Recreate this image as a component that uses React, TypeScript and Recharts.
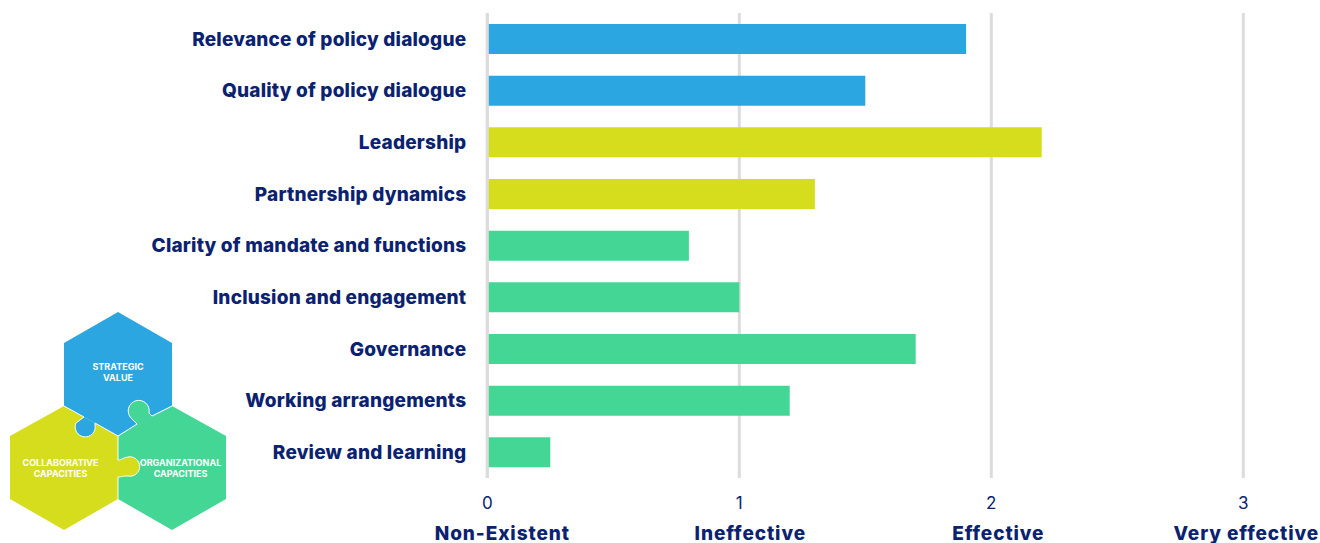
import React from "react";
import { BarChart, Bar, Cell, XAxis, YAxis, CartesianGrid, ReferenceLine } from "recharts";

const categories = [
  "Relevance of policy dialogue",
  "Quality of policy dialogue",
  "Leadership",
  "Partnership dynamics",
  "Clarity of mandate and functions",
  "Inclusion and engagement",
  "Governance",
  "Working arrangements",
  "Review and learning",
];
const scores = [1.9, 1.5, 2.2, 1.3, 0.8, 1.0, 1.7, 1.2, 0.25];
const groups = ["blue", "blue", "yellow", "yellow", "green", "green", "green", "green", "green"];
const xTicks = [0, 1, 2, 3];
const xTickNames = ["Non-Existent", "Ineffective", "Effective", "Very effective"];

const colors: Record<string, string> = { blue: "#2ba6e0", yellow: "#d6dd1c", green: "#44d695" };
const navy = "#0a2270";
const font = "Inter, sans-serif";

const data = categories.map((name, i) => ({ name, score: scores[i], group: groups[i] }));

// the scale names sit a bit right of their tick in the original
const nameOffset = [15, 11, 7, 3];

function XTick({ x, y, payload, index }: any) {
  return (
    <g>
      <text x={x} y={y + 23} textAnchor="middle" fontFamily={font} fontSize={17} fill={navy}>
        {payload.value}
      </text>
      <text
        x={x + nameOffset[index]}
        y={y + 54}
        textAnchor="middle"
        fontFamily={font}
        fontSize={19}
        fontWeight={800}
        letterSpacing={0.9}
        fill={navy}
      >
        {xTickNames[index]}
      </text>
    </g>
  );
}

function PuzzleLogo() {
  const label = { fontFamily: font, fontSize: 9, fontWeight: 700, fill: "#fff", textAnchor: "middle" as const };
  return (
    <svg width={240} height={243} viewBox="0 300 240 243" style={{ position: "absolute", left: 0, top: 300 }}>
      <path d="M64 406L118 436V499L64 530L10 499V436Z" fill={colors.yellow} />
      <path d="M172 406L226 436V499L172 530L118 499V436Z" fill={colors.green} />
      <path d="M118 312L172 343V406L118 436L64 406V343Z" fill={colors.blue} />
      {/* knobs */}
      <path d="M84 417L76 423A10 10 0 1 0 95 425L95 423L118 436L64 406Z" fill={colors.blue} />
      <path d="M118 460C122 460 122 458 128 457A9.7 9.7 0 1 1 128 476C122 476 122 477 118 477Z" fill={colors.yellow} />
      <path d="M137 424L131 418A10.5 10.5 0 1 1 149 413L152 416L172 406L118 436Z" fill={colors.green} />
      <g fill="none" stroke="#fff" strokeWidth={1}>
        <path d="M64 406L84 417L76 423A10 10 0 1 0 95 425L95 423L118 436" />
        <path d="M118 436V460C122 460 122 458 128 457A9.7 9.7 0 1 1 128 476C122 476 122 477 118 477V499" />
        <path d="M118 436L137 424L131 418A10.5 10.5 0 1 1 149 413L152 416L172 406" />
      </g>
      <text {...label} x={118} y={370}>STRATEGIC</text>
      <text {...label} x={118} y={381}>VALUE</text>
      <text {...label} x={60.5} y={466}>COLLABORATIVE</text>
      <text {...label} x={60.5} y={477}>CAPACITIES</text>
      <text {...label} x={180.5} y={466}>ORGANIZATIONAL</text>
      <text {...label} x={180.5} y={477}>CAPACITIES</text>
    </svg>
  );
}

export default function App() {
  return (
    <div style={{ position: "absolute", left: 0, top: 0, width: 1320, height: 543, background: "#fff", overflow: "hidden" }}>
      <BarChart
        width={1320}
        height={543}
        data={data}
        layout="vertical"
        margin={{ top: 13, right: 76.7, left: 0, bottom: 0 }}
        barSize={30}
      >
        <CartesianGrid horizontal={false} stroke="#dcdcdc" strokeWidth={3} />
        <XAxis
          type="number"
          domain={[0, 3]}
          ticks={xTicks}
          axisLine={false}
          tickLine={false}
          height={65}
          tick={<XTick />}
          interval={0}
        />
        <YAxis
          type="category"
          dataKey="name"
          width={487.3}
          interval={0}
          axisLine={false}
          tickLine={false}
          tickSize={0}
          tickMargin={21}
          tick={{ fontFamily: font, fontSize: 19, fontWeight: 800, fill: navy, letterSpacing: 0.2 }}
        />
        <Bar dataKey="score" isAnimationActive={false}>
          {data.map((d) => (
            <Cell key={d.name} fill={colors[d.group]} />
          ))}
        </Bar>
        <ReferenceLine x={0} stroke="#dcdcdc" strokeWidth={3} />
      </BarChart>
      <PuzzleLogo />
    </div>
  );
}
